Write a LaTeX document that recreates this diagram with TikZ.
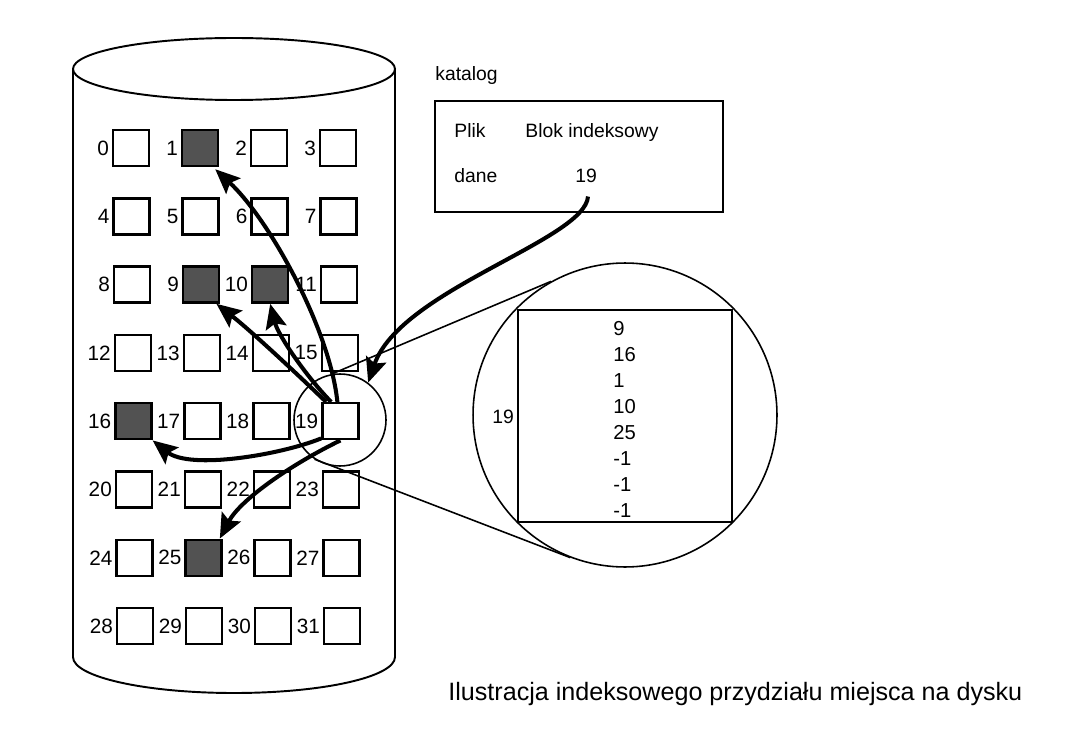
\documentclass[tikz,border=0pt]{standalone}
\usepackage{fontspec}
\setmainfont{Liberation Sans}
\usetikzlibrary{arrows.meta,calc}
\begin{document}
\begin{tikzpicture}[x=0.02cm,y=0.02cm,
  blk/.style={draw,line width=1.4pt,minimum size=0.72cm,inner sep=0pt},
  full/.style={blk,fill=black!68},
  lab/.style={inner sep=0.5pt,font=\fontsize{11.8}{13}\selectfont,anchor=east},
  txt/.style={inner sep=0pt,font=\fontsize{11}{13}\selectfont},
  num/.style={inner sep=0pt,font=\fontsize{11.5}{13}\selectfont,anchor=base west},
  thinline/.style={line width=0.9pt},
  ptr/.style={line width=2.3pt,-{Stealth[length=14pt,width=12pt,inset=2.5pt]}},
]
\useasboundingbox (0,0) rectangle (1077,-736);
% cylinder
\draw[line width=1.1pt] (234,-69) ellipse [x radius=161, y radius=31];
\draw[line width=1.1pt] (73,-69) -- (73,-657) arc[start angle=180, end angle=360, x radius=161, y radius=36] -- (395,-69);
% blocks
\foreach \n in {0,...,31}{
  \pgfmathtruncatemacro\r{int(\n/4)}
  \pgfmathtruncatemacro\c{mod(\n,4)}
  \pgfmathtruncatemacro\f{(\n==1)||(\n==9)||(\n==10)||(\n==16)||(\n==25)}
  \pgfmathsetmacro\xx{131+69*\c+0.6*\r}
  \pgfmathsetmacro\yy{-(148+68.3*\r)}
  \ifnum\f=1 \def\sty{full}\else\def\sty{blk}\fi
  \node[\sty] (b\n) at (\xx,\yy) {};
  \node[lab] (l\n) at ([xshift=-1pt]b\n.west) {\n};
}
% catalog
\node[txt,anchor=base west] (katl) at (435,-81) {katalog};
\node[draw,line width=1.4pt,minimum width=5.76cm,minimum height=2.22cm,inner sep=0pt] (kat) at (579,-156.5) {};
\node[txt,anchor=base west] (plik) at (454,-138) {Plik};
\node[txt,anchor=base west] (blok) at (525,-138) {Blok indeksowy};
\node[txt,anchor=base west] (dane) at (454,-183) {dane};
\node[txt,anchor=base] (k19) at (586,-183) {19};
% zoom circles
\node[draw,circle,thinline,minimum size=1.84cm,inner sep=0pt] (zc) at (340,-420) {};
\node[draw,circle,thinline,minimum size=6.08cm,inner sep=0pt] (bc) at (625,-415) {};
\node[draw,line width=1.2pt,minimum width=4.28cm,minimum height=4.24cm,inner sep=0pt] (ib) at (625,-416) {};
\draw[thinline] (zc.100) -- (bc.119);
\draw[thinline] (zc.237) -- (bc.249);
% index block contents
\node[txt,anchor=center] (ib19) at (503,-417) {19};
\foreach \v [count=\i from 0] in {9,16,1,10,25,-1,-1,-1}{
  \node[num] (e\i) at (613,{-(335+26.1*\i)}) {\v};
}
% pointers
\draw[ptr] ($(k19.south)+(2,-13)$) .. controls (585,-240) and (400,-290) .. (zc.53);
\draw[ptr] ($(b19.north)+(-3,0)$) .. controls (330,-330) and (270,-220) .. ($(b1.south east)+(-4,-2)$);
\draw[ptr] ($(b19.north west)+(5,0)$) .. controls (295,-372) and (250,-330) .. ($(b9.south east)+(-4,0)$);
\draw[ptr] ($(b19.north west)+(10,0)$) .. controls (305,-375) and (278,-335) .. (b10.south);
\draw[ptr] ($(b19.south west)+(0,2)$) .. controls (280,-455) and (190,-470) .. (b16.south east);
\draw[ptr] (b19.south) .. controls (290,-465) and (240,-500) .. ($(b25.north east)+(-3,0)$);
% caption
\node[inner sep=0pt,font=\fontsize{14.3}{16}\selectfont,anchor=base west] (cap) at (448,-700) {Ilustracja indeksowego przydziału miejsca na dysku};
\end{tikzpicture}
\end{document}
